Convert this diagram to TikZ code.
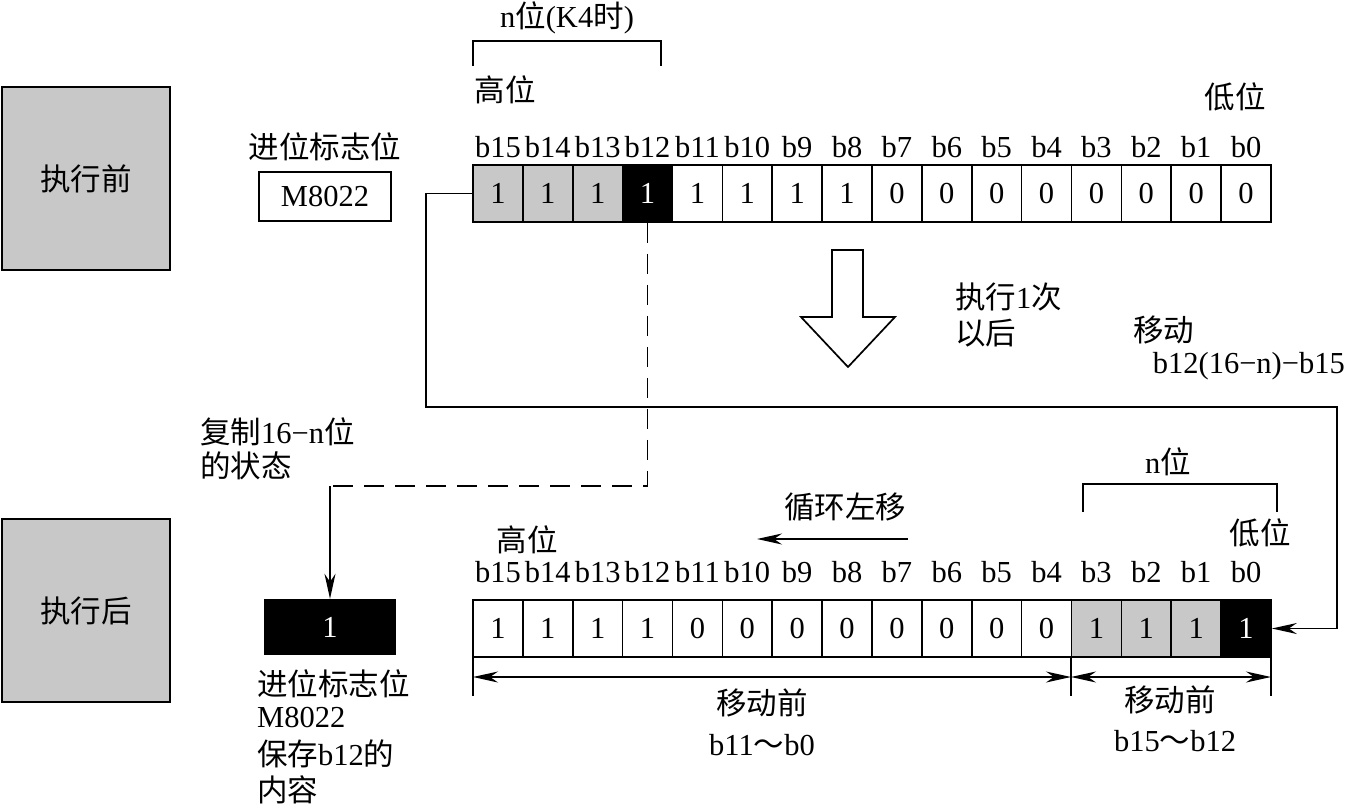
\documentclass[tikz,border=0pt]{standalone}
\usepackage{fontspec}
\setmainfont{Liberation Serif}
\newfontfamily\cjk{Noto Sans CJK SC}
\usetikzlibrary{arrows.meta,calc}
\newcommand\fsz{\fontsize{30.5pt}{35pt}\selectfont}
\definecolor{gry}{RGB}{200,200,200}
\tikzset{
  cell/.style={draw, line width=1.7pt, minimum width=49.875pt, minimum height=57pt, inner sep=0pt, font=\fsz},
  bitlbl/.style={inner sep=0pt, font=\fsz},
  txt/.style={inner sep=0pt, font=\fsz},
  txtl/.style={inner sep=0pt, font=\fsz, anchor=west},
  bigbox/.style={draw, line width=1.7pt, fill=gry, minimum width=168pt, minimum height=183pt, inner sep=0pt, font=\fsz},
  conn/.style={line width=1.7pt},
  tip/.style={-{Stealth[length=25pt,width=11pt,inset=8pt]}},
  dtip/.style={{Stealth[length=25pt,width=11pt,inset=8pt]}-{Stealth[length=25pt,width=11pt,inset=8pt]}},
}
\begin{document}
\begin{tikzpicture}[x=1pt,y=-1pt]
\useasboundingbox (0,0) rectangle (1345,808);

% state boxes
\node[bigbox] (before) at (86,178.5) {\cjk 执行前};
\node[bigbox] (after) at (86,610.5) {\cjk 执行后};

% top register
\foreach \b/\v/\f/\c in {15/1/gry/black,14/1/gry/black,13/1/gry/black,12/1/black/white,
  11/1/white/black,10/1/white/black,9/1/white/black,8/1/white/black,
  7/0/white/black,6/0/white/black,5/0/white/black,4/0/white/black,
  3/0/white/black,2/0/white/black,1/0/white/black,0/0/white/black}{
  \pgfmathsetmacro\xx{473+(15-\b+0.5)*49.875}
  \node[cell, fill=\f, text=\c] (t\b) at (\xx,193.5) {\v};
  \node[bitlbl] (tl\b) at (\xx,147) {b\b};
}
% bottom register
\foreach \b/\v/\f/\c in {15/1/white/black,14/1/white/black,13/1/white/black,12/1/white/black,
  11/0/white/black,10/0/white/black,9/0/white/black,8/0/white/black,
  7/0/white/black,6/0/white/black,5/0/white/black,4/0/white/black,
  3/1/gry/black,2/1/gry/black,1/1/gry/black,0/1/black/white}{
  \pgfmathsetmacro\xx{473+(15-\b+0.5)*49.875}
  \node[cell, fill=\f, text=\c] (u\b) at (\xx,628.5) {\v};
  \node[bitlbl] (ul\b) at (\xx,572) {b\b};
}

% top labels
\node[txt] (nk4) at (567,18) {n{\cjk 位}(K4{\cjk 时})};
\draw[conn] (473,66) -- (473,41) -- (661,41) -- (661,66);
\node[txt] (hi1) at (505,90) {\cjk 高位};
\node[txt] (lo1) at (1235,97) {\cjk 低位};

% carry flag before
\node[txt] (cf1) at (325,147) {\cjk 进位标志位};
\node[draw, line width=1.7pt, minimum width=132pt, minimum height=49pt, inner sep=0pt, font=\fsz] (m8022) at (325,196.5) {M8022};

% hollow arrow
\draw[line width=1.7pt, fill=white] (832,250) -- (863,250) -- (863,317) -- (895,317) -- (848,367) -- (801,317) -- (832,317) -- cycle;

\node[txtl] (ex1) at (955,297) {{\cjk 执行}1{\cjk 次}};
\node[txtl] (ex2) at (955,333) {\cjk 以后};
\node[txtl] (mv1) at (1133,330) {\cjk 移动};
\node[txt, anchor=east] (mv2) at (1345,366) {b12(16−n)−b15};

\node[txtl] (cp1) at (200,432) {{\cjk 复制}16−n{\cjk 位}};
\node[txtl] (cp2) at (200,466) {\cjk 的状态};

% rotate left arrow
\node[txt] (rol) at (845,507) {\cjk 循环左移};
\coordinate (rolA) at (908,539);
\coordinate (rolB) at (757,539);
\draw[conn, tip] (rolA) -- (rolB);

\node[txt] (hi2) at (527,540) {\cjk 高位};
\node[txt] (lo2) at (1260,533) {\cjk 低位};
\node[txt] (nb) at (1168,462) {n{\cjk 位}};
\draw[conn] (1083,512) -- (1083,484) -- (1277,484) -- (1277,512);

% carry flag after
\node[fill=black, minimum width=132pt, minimum height=56pt, inner sep=0pt, text=white, font=\fsz] (carry) at (330,627) {1};
\node[txtl] (cl1) at (257,684) {\cjk 进位标志位};
\node[txtl] (cl2) at (257,718) {M8022};
\node[txtl] (cl3) at (257,754) {{\cjk 保存}b12{\cjk 的}};
\node[txtl] (cl4) at (257,790) {\cjk 内容};

% solid connector: b15 -> b0
\coordinate (r1) at (426,407);
\coordinate (r2) at (1337,407);
\draw[conn, tip] (t15.west) -| (r1) -- (r2) |- (u0.east);

% dashed connector: b12 -> carry
\coordinate (d1) at (330,486);
\draw[conn, dashed, dash pattern=on 20pt off 11pt] (t12.south) |- (d1);
\draw[conn, tip] (d1) -- (carry.north);

% dimension lines
\draw[conn] (473,657) -- (473,696);
\draw[conn] (1071,657) -- (1071,696);
\draw[conn] (1271,657) -- (1271,696);
\coordinate (dA) at (473,677);
\coordinate (dB) at (1071,677);
\coordinate (dC) at (1271,677);
\draw[conn, dtip] (dA) -- (dB);
\draw[conn, dtip] (dB) -- (dC);
\node[txt] (mb1) at (762,703) {\cjk 移动前};
\node[txt] (mb2) at (762,745) {b11{\cjk ～}b0};
\node[txt] (mb3) at (1170,700) {\cjk 移动前};
\node[txt] (mb4) at (1175,741) {b15{\cjk ～}b12};
\end{tikzpicture}
\end{document}
